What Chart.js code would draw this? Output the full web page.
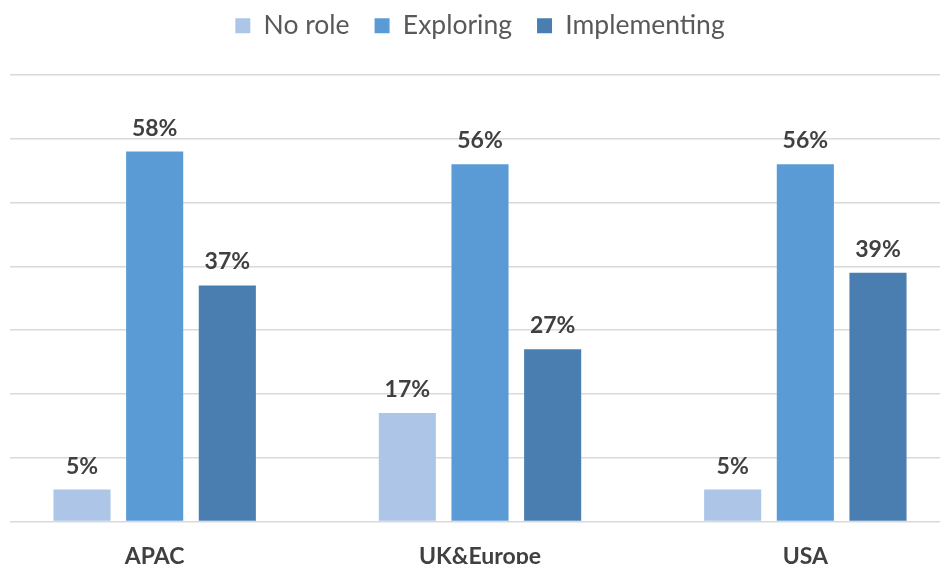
<!DOCTYPE html>
<html>
<head>
<meta charset="utf-8">
<script src="https://cdn.jsdelivr.net/npm/chart.js@4.4.1/dist/chart.umd.min.js"></script>
<style>
  html, body { margin: 0; padding: 0; background: #fff; overflow: hidden; }
  body { width: 940px; height: 564px; position: relative; }
  .chart-container { position: absolute; left: -8px; top: -24px; width: 976px; height: 615px; }
</style>
</head>
<body>
<div class="chart-container"><canvas id="chart"></canvas></div>
<script>
const regions = ['APAC', 'UK&Europe', 'USA'];
const noRole = [5, 17, 5];
const exploring = [58, 56, 56];
const implementing = [37, 27, 39];

const FONT = 'Lato, "Open Sans", sans-serif';

// bump legend height so the plot starts lower
const legendSpace = {
  id: 'legendSpace',
  beforeInit(chart) {
    const fit = chart.legend.fit;
    chart.legend.fit = function () {
      fit.bind(chart.legend)();
      this.height += 26;
    };
  }
};

// hide the gridlines left of x=10 on the page
const gridMask = {
  id: 'gridMask',
  beforeDatasetsDraw(chart) {
    const ctx = chart.ctx;
    const a = chart.chartArea;
    ctx.save();
    ctx.fillStyle = '#fff';
    ctx.fillRect(0, a.top - 3, 18, a.bottom - a.top + 6);
    ctx.restore();
  }
};

const valueLabels = {
  id: 'valueLabels',
  afterDatasetsDraw(chart) {
    const ctx = chart.ctx;
    ctx.save();
    ctx.font = 'bold 23px ' + FONT;
    ctx.fillStyle = '#404040';
    ctx.textAlign = 'center';
    ctx.textBaseline = 'alphabetic';
    chart.data.datasets.forEach((ds, i) => {
      chart.getDatasetMeta(i).data.forEach((bar, j) => {
        ctx.fillText(ds.data[j] + '%', bar.x, bar.y - 16);
      });
    });
    ctx.restore();
  }
};

new Chart(document.getElementById('chart').getContext('2d'), {
  type: 'bar',
  data: {
    labels: regions,
    datasets: [
      { label: 'No role', data: noRole, backgroundColor: '#adc6e8' },
      { label: 'Exploring', data: exploring, backgroundColor: '#5b9bd5' },
      { label: 'Implementing', data: implementing, backgroundColor: '#4a7eb0' }
    ]
  },
  options: {
    responsive: true,
    maintainAspectRatio: false,
    animation: false,
    layout: { padding: { top: 11.5, left: 0, right: 0, bottom: 0 } },
    datasets: {
      bar: { categoryPercentage: 0.67, barPercentage: 0.786 }
    },
    scales: {
      y: {
        min: 0,
        max: 70,
        ticks: { display: false, stepSize: 10 },
        border: { display: false },
        grid: { color: '#d9d9d9', lineWidth: 1.5, drawTicks: false }
      },
      x: {
        ticks: {
          color: '#404040',
          padding: 21,
          font: { family: FONT, size: 23, weight: 'bold' }
        },
        border: { display: false },
        grid: { display: false, drawTicks: false }
      }
    },
    plugins: {
      legend: {
        position: 'top',
        labels: {
          color: '#595959',
          boxWidth: 15,
          boxHeight: 15,
          padding: 25,
          font: { family: FONT, size: 26.5 }
        }
      },
      tooltip: { enabled: false }
    }
  },
  plugins: [legendSpace, gridMask, valueLabels]
});
</script>
</body>
</html>
